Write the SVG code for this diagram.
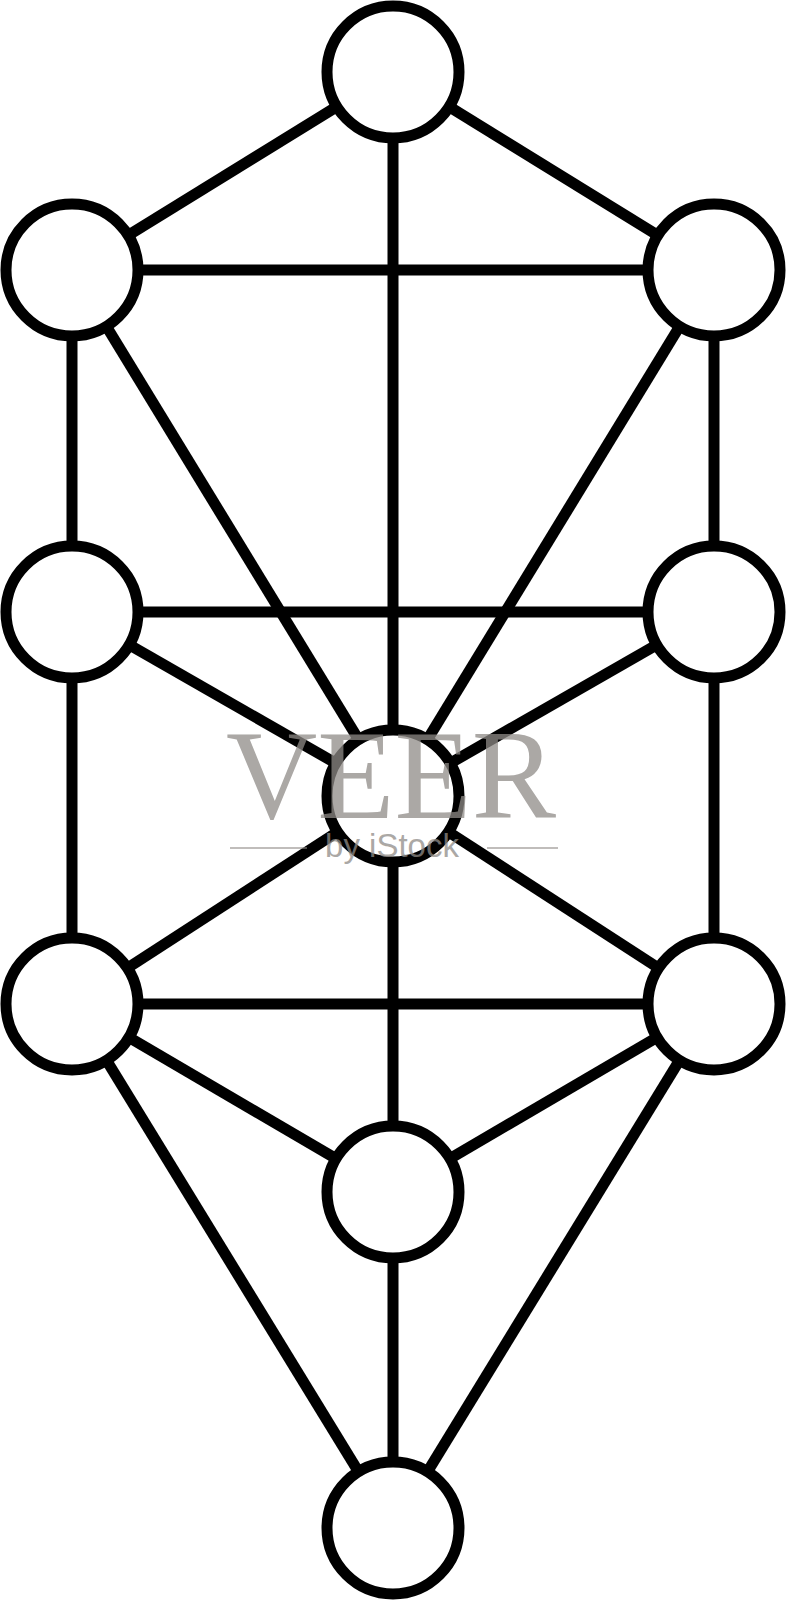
<svg xmlns="http://www.w3.org/2000/svg" width="786" height="1600" viewBox="0 0 786 1600">
<style>
.c line{stroke:#000;stroke-width:11;stroke-linecap:butt}
.n circle{fill:#fff;stroke:#000;stroke-width:11}
.wm{fill:#8f8b87;opacity:0.75}
</style>
<rect width="786" height="1600" fill="#fff"/>
<g id="connectors" class="c">
<line x1="393" y1="72" x2="72" y2="270"/>
<line x1="393" y1="72" x2="714" y2="270"/>
<line x1="393" y1="72" x2="393" y2="1528"/>
<line x1="72" y1="270" x2="714" y2="270"/>
<line x1="72" y1="612" x2="714" y2="612"/>
<line x1="72" y1="1004" x2="714" y2="1004"/>
<line x1="72" y1="270" x2="72" y2="1004"/>
<line x1="714" y1="270" x2="714" y2="1004"/>
<line x1="72" y1="270" x2="393" y2="796"/>
<line x1="714" y1="270" x2="393" y2="796"/>
<line x1="72" y1="612" x2="393" y2="796"/>
<line x1="714" y1="612" x2="393" y2="796"/>
<line x1="72" y1="1004" x2="393" y2="796"/>
<line x1="714" y1="1004" x2="393" y2="796"/>
<line x1="72" y1="1004" x2="393" y2="1192"/>
<line x1="714" y1="1004" x2="393" y2="1192"/>
<line x1="72" y1="1004" x2="393" y2="1528"/>
<line x1="714" y1="1004" x2="393" y2="1528"/>
</g>
<g id="node-top" class="n"><circle cx="393" cy="72" r="66"/></g>
<g id="node-upper-left" class="n"><circle cx="72" cy="270" r="66"/></g>
<g id="node-upper-right" class="n"><circle cx="714" cy="270" r="66"/></g>
<g id="node-middle-left" class="n"><circle cx="72" cy="612" r="66"/></g>
<g id="node-middle-right" class="n"><circle cx="714" cy="612" r="66"/></g>
<g id="node-center" class="n"><circle cx="393" cy="796" r="66"/></g>
<g id="node-lower-left" class="n"><circle cx="72" cy="1004" r="66"/></g>
<g id="node-lower-right" class="n"><circle cx="714" cy="1004" r="66"/></g>
<g id="node-lower-center" class="n"><circle cx="393" cy="1192" r="66"/></g>
<g id="node-bottom" class="n"><circle cx="393" cy="1528" r="66"/></g>
<g id="watermark">
<text class="wm" x="391" y="818" text-anchor="middle" font-family="Liberation Serif, serif" font-size="128" textLength="330" lengthAdjust="spacingAndGlyphs">VEER</text>
<text class="wm" x="392" y="857" text-anchor="middle" font-family="Liberation Sans, sans-serif" font-size="33">by iStock</text>
<line x1="230" y1="848" x2="307" y2="848" stroke="#8f8b87" stroke-width="1.5" opacity="0.75"/>
<line x1="487" y1="848" x2="558" y2="848" stroke="#8f8b87" stroke-width="1.5" opacity="0.75"/>
</g>
</svg>
